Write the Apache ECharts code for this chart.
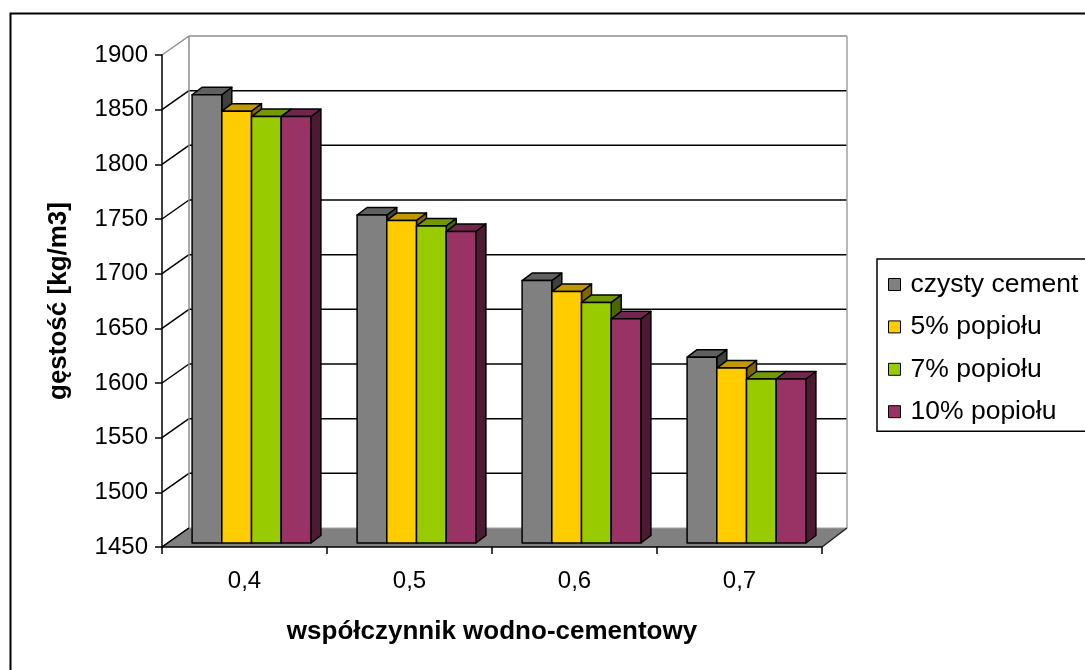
<!DOCTYPE html>
<html>
<head>
<meta charset="utf-8">
<title>gęstość</title>
<script src="https://cdn.jsdelivr.net/npm/echarts@6/dist/echarts.min.js"></script>
<style>
  html, body { margin: 0; padding: 0; background: #fff; }
  #chart { width: 1085px; height: 670px; }
</style>
</head>
<body>
<div id="chart"></div>
<script>
// Categories (water/cement ratio) and density series [kg/m3]
const categories = ['0,4', '0,5', '0,6', '0,7'];
const seriesNames = ['czysty cement', '5% popiołu', '7% popiołu', '10% popiołu'];
const cleanCement = [1860, 1750, 1690, 1620];
const ash5 = [1845, 1745, 1680, 1610];
const ash7 = [1840, 1740, 1670, 1600];
const ash10 = [1840, 1735, 1655, 1600];
const yTicks = [1450, 1500, 1550, 1600, 1650, 1700, 1750, 1800, 1850, 1900];

const seriesValues = [cleanCement, ash5, ash7, ash10];
const frontColors = ['#808080', '#FFCC00', '#99CC00', '#993366'];
const topColors = ['#606060', '#C09900', '#739900', '#73264D'];
const sideColors = ['#404040', '#806600', '#4D6600', '#4D1A33'];

const FONT = "'Liberation Sans', Arial, sans-serif";
const Y_MIN = yTicks[0];
const Y_MAX = yTicks[yTicks.length - 1];

// pseudo-3D offsets: back wall, bar front face, bar depth
const WALL = { dx: 27, dy: -19 };
const FRONT = { dx: 7, dy: -4 };
const DEPTH = { dx: 10, dy: -7.5 };
const BAR_RATIO = 0.18;

function plotEdges(api, v) {
  const band = api.size([1, 0])[0];
  const l = api.coord([0, v]);
  const r = api.coord([categories.length - 1, v]);
  return { left: l[0] - band / 2, right: r[0] + band / 2, y: l[1] };
}

// back-wall gridlines and left-wall diagonals
function renderGrid(params, api) {
  const v = api.value(1);
  const e = plotEdges(api, v);
  const isTop = v === Y_MAX;
  const col = isTop ? '#8C8C8C' : '#000';
  const children = [
    { type: 'line', shape: { x1: e.left, y1: e.y, x2: e.left + WALL.dx, y2: e.y + WALL.dy },
      style: { stroke: col, lineWidth: 1.5 } }
  ];
  if (v !== Y_MIN) {
    children.push({ type: 'line',
      shape: { x1: e.left + WALL.dx, y1: e.y + WALL.dy, x2: e.right + WALL.dx - 2, y2: e.y + WALL.dy },
      style: { stroke: col, lineWidth: 1.5 } });
  }
  return { type: 'group', children };
}

// floor and wall edges
function renderFloor(params, api) {
  const b = plotEdges(api, Y_MIN);
  const t = plotEdges(api, Y_MAX);
  const bx = b.left + WALL.dx, rx = b.right + WALL.dx - 2;
  return { type: 'group', children: [
    { type: 'line', shape: { x1: bx, y1: t.y + WALL.dy, x2: bx, y2: b.y + WALL.dy },
      style: { stroke: '#8C8C8C', lineWidth: 1.5 } },
    { type: 'line', shape: { x1: rx, y1: t.y + WALL.dy, x2: rx, y2: b.y + WALL.dy },
      style: { stroke: '#A0A0A0', lineWidth: 1.5 } },
    { type: 'polygon', shape: { points: [[b.left, b.y], [b.right, b.y], [rx, b.y + WALL.dy], [bx, b.y + WALL.dy]] },
      style: { fill: '#808080', stroke: null } },
    { type: 'line', shape: { x1: bx, y1: b.y + WALL.dy, x2: rx, y2: b.y + WALL.dy },
      style: { stroke: '#A0A0A0', lineWidth: 1 } },
    { type: 'line', shape: { x1: b.left, y1: b.y, x2: bx, y2: b.y + WALL.dy },
      style: { stroke: '#000', lineWidth: 1.5 } },
    { type: 'line', shape: { x1: b.right, y1: b.y, x2: rx, y2: b.y + WALL.dy },
      style: { stroke: '#222', lineWidth: 1.5 } }
  ] };
}

function makeBarRenderer(si) {
  return function (params, api) {
    const ci = api.value(0);
    const v = api.value(1);
    const band = api.size([1, 0])[0];
    const bw = band * BAR_RATIO;
    const c = api.coord([ci, v]);
    const base = api.coord([ci, Y_MIN])[1] + FRONT.dy;
    const top = c[1] + FRONT.dy;
    const x0 = c[0] - 2 * bw + si * bw + FRONT.dx;
    const x1 = x0 + bw;
    const dx = DEPTH.dx, dy = DEPTH.dy;
    const stroke = { stroke: '#000', lineWidth: 1.5, lineJoin: 'round' };
    return { type: 'group', children: [
      { type: 'polygon', shape: { points: [[x1, top], [x1 + dx, top + dy], [x1 + dx, base + dy], [x1, base]] },
        style: Object.assign({ fill: sideColors[si] }, stroke) },
      { type: 'polygon', shape: { points: [[x0, top], [x1, top], [x1 + dx, top + dy], [x0 + dx, top + dy]] },
        style: Object.assign({ fill: topColors[si] }, stroke) },
      { type: 'polygon', shape: { points: [[x0, top], [x1, top], [x1, base], [x0, base]] },
        style: Object.assign({ fill: frontColors[si] }, stroke) }
    ] };
  };
}

const chart = echarts.init(document.getElementById('chart'), null, { renderer: 'canvas' });

const barSeries = seriesValues.map((vals, si) => ({
  name: seriesNames[si],
  type: 'custom',
  renderItem: makeBarRenderer(si),
  data: vals.map((v, i) => [i, v]),
  encode: { x: 0, y: 1 },
  itemStyle: { color: frontColors[si], borderColor: '#000', borderWidth: 1 },
  clip: false,
  silent: true,
  z: 4
}));

chart.setOption({
  animation: false,
  backgroundColor: '#fff',
  textStyle: { fontFamily: FONT },
  graphic: [{
    type: 'rect', left: 8, top: 11,
    shape: { width: 1100, height: 700 },
    style: { fill: null, stroke: '#000', lineWidth: 2 },
    z: 0
  }],
  grid: { left: 162, top: 55, width: 660, height: 492 },
  legend: {
    orient: 'vertical',
    left: 877, top: 259,
    data: seriesNames,
    icon: 'rect',
    itemWidth: 12, itemHeight: 12,
    itemGap: 15.4,
    padding: [12, 30, 6, 11],
    borderColor: '#000', borderWidth: 1.5,
    itemStyle: { borderColor: '#000', borderWidth: 1 },
    textStyle: { fontSize: 26.5, color: '#000', fontFamily: FONT, lineHeight: 26, padding: [0, 0, 0, 5] },
    selectedMode: false
  },
  xAxis: {
    type: 'category',
    data: categories,
    boundaryGap: true,
    z: 10,
    axisLine: { show: true, lineStyle: { color: '#000', width: 1.5 } },
    axisTick: { show: true, length: 7, lineStyle: { color: '#000', width: 1.5 } },
    axisLabel: { fontSize: 24, color: '#000', margin: 22, fontFamily: FONT },
    splitLine: { show: false },
    name: 'współczynnik wodno-cementowy',
    nameLocation: 'middle',
    nameGap: 72,
    nameTextStyle: { fontSize: 26, fontWeight: 'bold', color: '#000', fontFamily: FONT }
  },
  yAxis: {
    type: 'value',
    min: Y_MIN, max: Y_MAX, interval: 50,
    z: 10,
    axisLine: { show: true, lineStyle: { color: '#000', width: 1.5 } },
    axisTick: { show: true, length: 7, lineStyle: { color: '#000', width: 1.5 } },
    axisLabel: { fontSize: 24, color: '#000', margin: 14, fontFamily: FONT,
      formatter: v => String(v) },
    splitLine: { show: false },
    name: 'gęstość [kg/m3]',
    nameLocation: 'middle',
    nameRotate: 90,
    nameGap: 90,
    nameTextStyle: { fontSize: 26, fontWeight: 'bold', color: '#000', fontFamily: FONT }
  },
  series: [
    {
      name: 'grid3d', type: 'custom', renderItem: renderGrid,
      data: yTicks.map(v => [0, v]), encode: { x: 0, y: 1 },
      clip: false, silent: true, z: 1
    },
    {
      name: 'floor3d', type: 'custom', renderItem: renderFloor,
      data: [[0, Y_MIN]], encode: { x: 0, y: 1 },
      clip: false, silent: true, z: 2
    }
  ].concat(barSeries)
});
</script>
</body>
</html>
